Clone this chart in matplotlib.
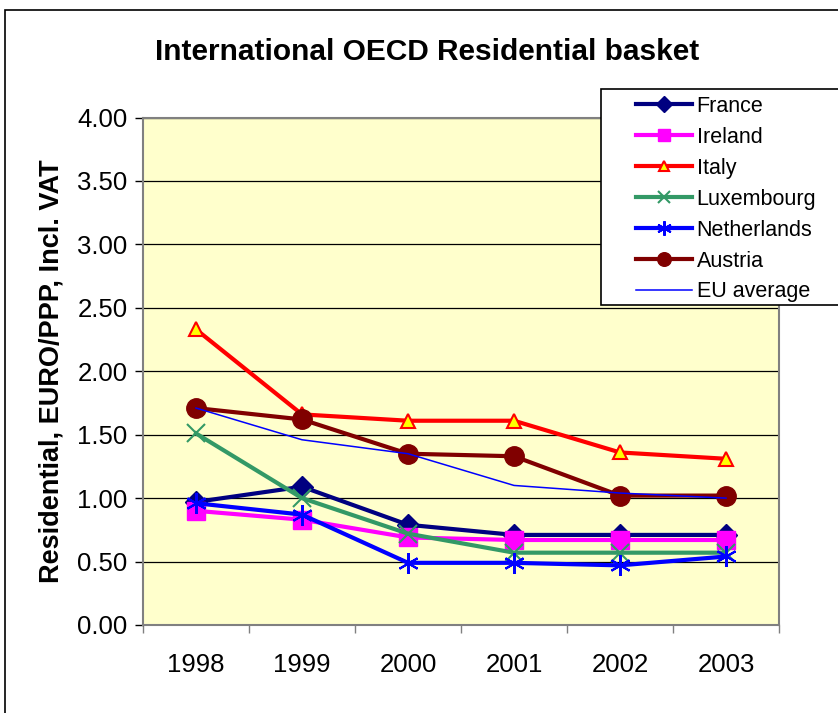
import matplotlib
matplotlib.use("Agg")
import matplotlib.pyplot as plt
from matplotlib.patches import Rectangle

plt.rcParams['font.family'] = ['Liberation Sans', 'DejaVu Sans']

years = ["1998", "1999", "2000", "2001", "2002", "2003"]
france = [0.97, 1.09, 0.79, 0.71, 0.71, 0.71]
ireland = [0.90, 0.83, 0.69, 0.67, 0.67, 0.67]
italy = [2.33, 1.66, 1.61, 1.61, 1.36, 1.31]
luxembourg = [1.51, 1.00, 0.72, 0.57, 0.57, 0.57]
netherlands = [0.96, 0.87, 0.49, 0.49, 0.47, 0.54]
austria = [1.71, 1.62, 1.35, 1.33, 1.02, 1.02]
eu_average = [1.71, 1.46, 1.35, 1.10, 1.04, 1.00]
yticks = [0.0, 0.5, 1.0, 1.5, 2.0, 2.5, 3.0, 3.5, 4.0]

W, H = 838, 713
fig = plt.figure(figsize=(W / 100, H / 100), dpi=100)
ax = fig.add_axes([143 / W, 1 - 625 / H, 636 / W, 507.5 / H])
ax.set_facecolor('#FFFFCC')

x = list(range(len(years)))
ax.plot(x, france, color='#000080', lw=3, marker='D', ms=11, mfc='#000080', mec='#000080', label='France')
ax.plot(x, ireland, color='#FF00FF', lw=3, marker='s', ms=13, mfc='#FF00FF', mec='#FF00FF', label='Ireland')
ax.plot(x, italy, color='#FF0000', lw=3, marker='^', ms=10, mfc='#FFFF00', mec='#FF0000', mew=1.5, label='Italy')
ax.plot(x, luxembourg, color='#339966', lw=3, marker='x', ms=13, mec='#339966', mew=1.5, label='Luxembourg')
ax.plot(x, netherlands, color='#0000FF', lw=3, marker=(6, 2, 0), ms=15, mec='#0000FF', mew=1.5, label='Netherlands')
ax.plot(x, austria, color='#800000', lw=3, marker='o', ms=14, mfc='#800000', mec='#800000', label='Austria')
ax.plot(x, eu_average, color='#0000FF', lw=1.1, label='EU average')

ax.set_xlim(-0.5, len(years) - 0.5)
ax.set_ylim(0, 4)
ax.set_yticks(yticks)
ax.set_yticklabels([f"{v:.2f}" for v in yticks])
ax.yaxis.grid(True, color='black', lw=0.9)
ax.set_axisbelow(True)

ax.set_xticks([i - 0.5 for i in range(len(years) + 1)])
ax.set_xticklabels([])
ax.set_xticks(x, minor=True)
ax.set_xticklabels(years, minor=True)
ax.tick_params(axis='x', which='major', direction='out', length=6, width=1, color='#808080')
ax.tick_params(axis='x', which='minor', length=0, pad=20, labelsize=18.5)
ax.tick_params(axis='y', direction='out', length=6, width=1, color='black', labelsize=18.5, pad=5)

for s in ax.spines.values():
    s.set_color('#808080')
    s.set_linewidth(1.5)

ax.set_ylabel('Residential, EURO/PPP, Incl. VAT', fontsize=19.5, fontweight='bold', labelpad=9)
fig.text(427 / W, 1 - 52 / H, 'International OECD Residential basket', fontsize=21.5,
         fontweight='bold', ha='center', va='center')

# outer chart border
fig.patches.append(Rectangle((5 / W, -0.05), 1.1, 1 - 9.5 / H + 0.05, transform=fig.transFigure,
                             fill=False, edgecolor='black', lw=1.2))
# legend frame
fig.patches.append(Rectangle((601 / W, 1 - 305 / H), 0.3, (305 - 89) / H, transform=fig.transFigure,
                             facecolor='white', edgecolor='black', lw=1.2, zorder=3))

leg = fig.legend(loc='upper left', bbox_to_anchor=(636 / W, 1 - 96 / H), frameon=False,
                 fontsize=15.5, handlelength=2.6, handletextpad=0.22, labelspacing=0.46,
                 borderpad=0, borderaxespad=0, markerscale=0.7)
leg.set_zorder(4)

fig.savefig('out.png', dpi=100)
